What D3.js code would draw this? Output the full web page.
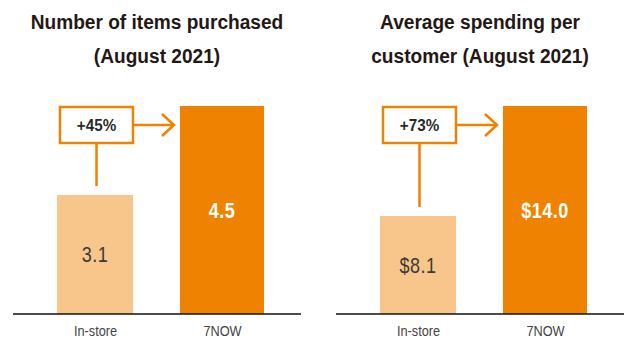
<!DOCTYPE html>
<html>
<head>
<meta charset="utf-8">
<script src="https://cdn.jsdelivr.net/npm/d3@7"></script>
<style>
  body { margin: 0; background: #fff; }
  svg { display: block; }
</style>
</head>
<body>
<div id="chart"></div>
<script>
// data
var categories = ["In-store", "7NOW"];
var itemsValues = [3.1, 4.5];
var itemsLabels = ["3.1", "4.5"];
var spendValues = [8.1, 14.0];
var spendLabels = ["$8.1", "$14.0"];
var itemsChange = "+45%";
var spendChange = "+73%";
var itemsTitle = ["Number of items purchased", "(August 2021)"];
var spendTitle = ["Average spending per", "customer (August 2021)"];

var width = 624, height = 339;
var dark = "#ef8200", light = "#f8c58a";
var font = "'Liberation Sans', Arial, sans-serif";

var svg = d3.select("#chart").append("svg")
    .attr("width", width)
    .attr("height", height);

var baseline = 314;
var barW = { "In-store": 76, "7NOW": 84 };

// squeeze text horizontally, the original uses a condensed face
function squeeze(x, y, s) {
    return "translate(" + x + "," + y + ") scale(" + s + ",1)";
}

function panel(offsetX, title, values, labels, change, yMin) {
    var g = svg.append("g")
        .attr("transform", "translate(" + offsetX + ",0)");

    var x = d3.scalePoint().domain(categories).range([95, 222]);
    var y = d3.scaleLinear().domain([yMin, d3.max(values)]).range([baseline, 106]);

    // title
    g.selectAll("text.title")
        .data(title)
        .enter().append("text")
        .attr("class", "title")
        .attr("transform", function (d, i) { return squeeze(157, 29 + i * 34, 0.91); })
        .attr("text-anchor", "middle")
        .attr("font-family", font)
        .attr("font-weight", "bold")
        .attr("font-size", 21)
        .attr("fill", "#231815")
        .text(function (d) { return d; });

    // bars
    g.selectAll("rect.bar")
        .data(values)
        .enter().append("rect")
        .attr("class", "bar")
        .attr("x", function (d, i) { return x(categories[i]) - barW[categories[i]] / 2; })
        .attr("width", function (d, i) { return barW[categories[i]]; })
        .attr("y", function (d) { return y(d); })
        .attr("height", function (d) { return baseline - y(d); })
        .attr("fill", function (d, i) { return i === 0 ? light : dark; });

    // value labels
    g.selectAll("text.val")
        .data(values)
        .enter().append("text")
        .attr("class", "val")
        .attr("transform", function (d, i) {
            return squeeze(x(categories[i]), (y(d) + baseline) / 2 + 8, 0.82);
        })
        .attr("text-anchor", "middle")
        .attr("font-family", font)
        .attr("font-size", 22)
        .attr("font-weight", function (d, i) { return i === 0 ? "normal" : "bold"; })
        .attr("fill", function (d, i) { return i === 0 ? "#3a3a3a" : "#fff"; })
        .attr("letter-spacing", 0.6)
        .text(function (d, i) { return labels[i]; });

    // axis
    var axis = g.append("g")
        .attr("transform", "translate(0," + baseline + ")")
        .call(d3.axisBottom(x).tickSize(0).tickPadding(11));
    axis.select(".domain")
        .attr("d", "M13,0H301")
        .attr("stroke", "#111")
        .attr("stroke-width", 1.5);
    axis.selectAll(".tick text")
        .attr("font-family", font)
        .attr("font-size", 15)
        .attr("fill", "#444")
        .attr("transform", "scale(0.85,1)");

    // callout
    var c0 = categories[0], c1 = categories[1];
    var bx0 = x(c0) - barW[c0] / 2 + 3, bx1 = x(c0) + barW[c0] / 2;
    var by0 = y(values[1]) + 1, by1 = by0 + 36;
    var bmid = (by0 + by1) / 2;
    var line = dark;

    g.append("rect")
        .attr("x", bx0).attr("y", by0)
        .attr("width", bx1 - bx0).attr("height", by1 - by0)
        .attr("fill", "#fff")
        .attr("stroke", line).attr("stroke-width", 2.5);
    g.append("text")
        .attr("transform", squeeze((bx0 + bx1) / 2, bmid + 6, 0.95))
        .attr("text-anchor", "middle")
        .attr("font-family", font)
        .attr("font-weight", "bold")
        .attr("font-size", 16)
        .attr("fill", "#2a2a2a")
        .text(change);

    var cx = (bx0 + bx1) / 2;
    g.append("line")
        .attr("x1", cx).attr("x2", cx)
        .attr("y1", by1).attr("y2", y(values[0]) - 9)
        .attr("stroke", line).attr("stroke-width", 2.5);

    var tip = x(c1) - barW[c1] / 2 - 6;
    g.append("line")
        .attr("x1", bx1).attr("x2", tip)
        .attr("y1", bmid).attr("y2", bmid)
        .attr("stroke", line).attr("stroke-width", 2.5);
    g.append("path")
        .attr("d", d3.line()([[tip - 12, bmid - 11], [tip, bmid], [tip - 12, bmid + 11]]))
        .attr("fill", "none")
        .attr("stroke", line).attr("stroke-width", 2.5);
}

panel(0, itemsTitle, itemsValues, itemsLabels, itemsChange, 1.228);
panel(323, spendTitle, spendValues, spendLabels, spendChange, 2.844);
</script>
</body>
</html>
